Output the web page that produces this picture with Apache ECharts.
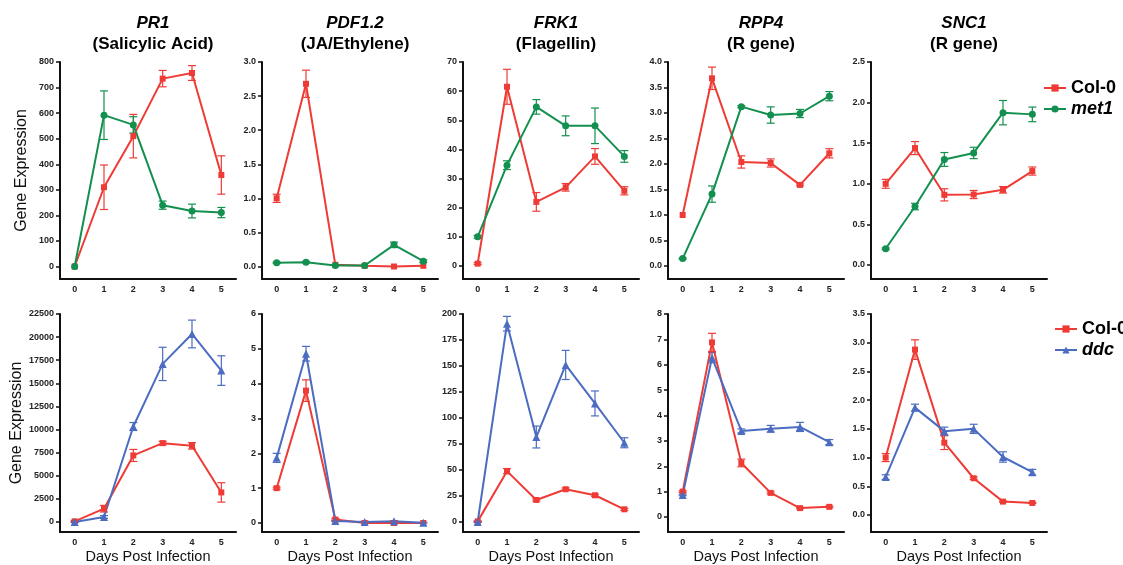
<!DOCTYPE html>
<html>
<head>
<meta charset="utf-8">
<script src="https://cdn.jsdelivr.net/npm/echarts@6/dist/echarts.min.js"></script>
<style>
  html, body { margin: 0; padding: 0; background: #fff; }
  #chart { width: 1123px; height: 565px; }
</style>
</head>
<body>
<div id="chart"></div>
<script>
var days = ['0', '1', '2', '3', '4', '5'];

// top row: Col-0 vs met1 (mean, sem)
var pr1Col = [0, 310, 510, 735, 757, 358];
var pr1ColErr = [0, 87, 85, 32, 29, 75];
var pr1Met1 = [0, 592, 554, 240, 217, 211];
var pr1Met1Err = [0, 95, 32, 16, 27, 20];

var pdfCol = [1.0, 2.68, 0.025, 0.01, 0.0, 0.01];
var pdfColErr = [0.06, 0.2, 0, 0, 0, 0];
var pdfMet1 = [0.054, 0.064, 0.015, 0.015, 0.318, 0.078];
var pdfMet1Err = [0.01, 0.01, 0, 0, 0.04, 0.02];

var frkCol = [0.8, 61.5, 22, 27, 37.6, 25.8];
var frkColErr = [0.3, 6, 3.2, 1.3, 2.7, 1.4];
var frkMet1 = [10, 34.6, 54.6, 48.1, 48.1, 37.6];
var frkMet1Err = [0.5, 1.5, 2.5, 3.4, 6.1, 2];

var rppCol = [1.0, 3.68, 2.04, 2.02, 1.59, 2.21];
var rppColErr = [0, 0.22, 0.12, 0.08, 0.02, 0.09];
var rppMet1 = [0.145, 1.41, 3.125, 2.96, 2.99, 3.33];
var rppMet1Err = [0.01, 0.16, 0.02, 0.16, 0.08, 0.09];

var sncCol = [1.0, 1.44, 0.864, 0.868, 0.926, 1.157];
var sncColErr = [0.055, 0.08, 0.075, 0.05, 0.04, 0.05];
var sncMet1 = [0.2, 0.72, 1.30, 1.38, 1.876, 1.855];
var sncMet1Err = [0.01, 0.04, 0.085, 0.07, 0.15, 0.09];

// bottom row: Col-0 vs ddc
var pr1bCol = [70, 1440, 7200, 8530, 8240, 3200];
var pr1bColErr = [100, 360, 650, 200, 350, 1050];
var pr1Ddc = [0, 540, 10330, 17100, 20340, 16380];
var pr1DdcErr = [50, 150, 430, 1800, 1500, 1600];

var pdfbCol = [1.0, 3.80, 0.1, 0.0, 0.0, 0.0];
var pdfbColErr = [0.03, 0.31, 0.03, 0, 0, 0];
var pdfDdc = [1.87, 4.86, 0.06, 0.03, 0.05, 0.01];
var pdfDdcErr = [0.13, 0.21, 0.02, 0.02, 0.02, 0.01];

var frkbCol = [0.6, 48.9, 21.2, 31.5, 25.7, 12.2];
var frkbColErr = [0.5, 2.5, 1, 1.2, 1, 1];
var frkDdc = [0, 190.7, 81.7, 151, 114, 76.2];
var frkDdcErr = [0.5, 7, 10.5, 14, 12, 4.8];

var rppbCol = [1.0, 6.88, 2.13, 0.95, 0.35, 0.4];
var rppbColErr = [0.03, 0.36, 0.15, 0.04, 0.03, 0.03];
var rppDdc = [0.87, 6.28, 3.39, 3.48, 3.55, 2.95];
var rppDdcErr = [0.03, 0.2, 0.08, 0.13, 0.18, 0.1];

var sncbCol = [1.0, 2.88, 1.26, 0.64, 0.233, 0.21];
var sncbColErr = [0.07, 0.17, 0.12, 0.02, 0.01, 0.01];
var sncDdc = [0.66, 1.87, 1.46, 1.50, 1.01, 0.745];
var sncDdcErr = [0.04, 0.06, 0.07, 0.08, 0.09, 0.05];

// y tick values
var pr1Ticks = [0, 100, 200, 300, 400, 500, 600, 700, 800];
var pdfTicks = [0, 0.5, 1.0, 1.5, 2.0, 2.5, 3.0];
var frkTicks = [0, 10, 20, 30, 40, 50, 60, 70];
var rppTicks = [0, 0.5, 1.0, 1.5, 2.0, 2.5, 3.0, 3.5, 4.0];
var sncTicks = [0, 0.5, 1.0, 1.5, 2.0, 2.5];
var pr1bTicks = [0, 2500, 5000, 7500, 10000, 12500, 15000, 17500, 20000, 22500];
var pdfbTicks = [0, 1, 2, 3, 4, 5, 6];
var frkbTicks = [0, 25, 50, 75, 100, 125, 150, 175, 200];
var rppbTicks = [0, 1, 2, 3, 4, 5, 6, 7, 8];
var sncbTicks = [0, 0.5, 1.0, 1.5, 2.0, 2.5, 3.0, 3.5];

var genes = ['PR1', 'PDF1.2', 'FRK1', 'RPP4', 'SNC1'];
var pathways = ['(Salicylic Acid)', '(JA/Ethylene)', '(Flagellin)', '(R gene)', '(R gene)'];

var RED = '#EE3B36', GREEN = '#13904F', BLUE = '#4B6CC0';
var FONT = 'Liberation Sans, Arial, sans-serif';

// layout
var panelLefts = [60, 262, 463, 668, 871];
var panelWidth = 176;
var rowTop = [62, 314];
var rowAxis = [279, 532];
var zeroPix = [[266.5, 266.5, 266, 266, 265], [522, 523, 522, 517, 515]];

var panels = [
  {row: 0, col: 0, ticks: pr1Ticks, dec: 0, a: pr1Col, ae: pr1ColErr, b: pr1Met1, be: pr1Met1Err, mut: 'met1'},
  {row: 0, col: 1, ticks: pdfTicks, dec: 1, a: pdfCol, ae: pdfColErr, b: pdfMet1, be: pdfMet1Err, mut: 'met1'},
  {row: 0, col: 2, ticks: frkTicks, dec: 0, a: frkCol, ae: frkColErr, b: frkMet1, be: frkMet1Err, mut: 'met1'},
  {row: 0, col: 3, ticks: rppTicks, dec: 1, a: rppCol, ae: rppColErr, b: rppMet1, be: rppMet1Err, mut: 'met1'},
  {row: 0, col: 4, ticks: sncTicks, dec: 1, a: sncCol, ae: sncColErr, b: sncMet1, be: sncMet1Err, mut: 'met1'},
  {row: 1, col: 0, ticks: pr1bTicks, dec: 0, a: pr1bCol, ae: pr1bColErr, b: pr1Ddc, be: pr1DdcErr, mut: 'ddc'},
  {row: 1, col: 1, ticks: pdfbTicks, dec: 0, a: pdfbCol, ae: pdfbColErr, b: pdfDdc, be: pdfDdcErr, mut: 'ddc'},
  {row: 1, col: 2, ticks: frkbTicks, dec: 0, a: frkbCol, ae: frkbColErr, b: frkDdc, be: frkDdcErr, mut: 'ddc'},
  {row: 1, col: 3, ticks: rppbTicks, dec: 0, a: rppbCol, ae: rppbColErr, b: rppDdc, be: rppDdcErr, mut: 'ddc'},
  {row: 1, col: 4, ticks: sncbTicks, dec: 1, a: sncbCol, ae: sncbColErr, b: sncDdc, be: sncDdcErr, mut: 'ddc'}
];

function errorBarItem(params, api) {
  var x = api.value(0), mean = api.value(1), err = api.value(2);
  if (!err) return null;
  var hi = api.coord([x, mean + err]);
  var lo = api.coord([x, mean - err]);
  var cap = 4;
  var style = {stroke: api.visual('color'), lineWidth: 1.2};
  return {
    type: 'group',
    children: [
      {type: 'line', shape: {x1: hi[0], y1: hi[1], x2: lo[0], y2: lo[1]}, style: style},
      {type: 'line', shape: {x1: hi[0] - cap, y1: hi[1], x2: hi[0] + cap, y2: hi[1]}, style: style},
      {type: 'line', shape: {x1: lo[0] - cap, y1: lo[1], x2: lo[0] + cap, y2: lo[1]}, style: style}
    ]
  };
}

function errData(means, errs) {
  return means.map(function (m, i) { return [i, m, errs[i]]; });
}

var grids = [], xAxes = [], yAxes = [], series = [], titles = [];

panels.forEach(function (p, k) {
  var top = rowTop[p.row], axisY = rowAxis[p.row], zero = zeroPix[p.row][p.col];
  var tmax = p.ticks[p.ticks.length - 1];
  var ymin = -tmax * (axisY - zero) / (zero - top);
  grids.push({left: panelLefts[p.col], top: top, width: panelWidth, height: axisY - top, outerBoundsMode: 'none'});
  xAxes.push({
    type: 'category', gridIndex: k, data: days,
    axisLine: {onZero: false, lineStyle: {color: '#111', width: 2}},
    axisTick: {alignWithLabel: true, length: 4, lineStyle: {color: '#111', width: 1.5}},
    axisLabel: {color: '#222', fontSize: 9, fontWeight: 'bold', margin: 6, fontFamily: FONT},
    name: p.row === 1 ? 'Days Post Infection' : '',
    nameLocation: 'middle', nameGap: 17,
    nameTextStyle: {fontSize: 14.5, color: '#111', fontFamily: FONT}
  });
  yAxes.push({
    type: 'value', gridIndex: k, min: ymin, max: tmax,
    splitLine: {show: false},
    axisLine: {show: true, lineStyle: {color: '#111', width: 2}},
    axisTick: {show: true, length: 4, lineStyle: {color: '#111', width: 1.5}, customValues: p.ticks},
    axisLabel: {
      color: '#222', fontSize: 9, fontWeight: 'bold', margin: 6, fontFamily: FONT,
      customValues: p.ticks,
      formatter: function (v) { return v.toFixed(p.dec); }
    },
    name: p.col === 0 ? 'Gene Expression' : '',
    nameLocation: 'middle', nameRotate: 90, nameGap: 30,
    nameTextStyle: {fontSize: 16, color: '#111', fontFamily: FONT}
  });
  var mutColor = p.mut === 'met1' ? GREEN : BLUE;
  var mutSymbol = p.mut === 'met1' ? 'circle' : 'triangle';
  series.push({
    type: 'custom', name: 'Col-0 sem', xAxisIndex: k, yAxisIndex: k,
    renderItem: errorBarItem, data: errData(p.a, p.ae), encode: {x: 0, y: 1},
    itemStyle: {color: RED}, silent: true, z: 2
  });
  series.push({
    type: 'custom', name: p.mut + ' sem', xAxisIndex: k, yAxisIndex: k,
    renderItem: errorBarItem, data: errData(p.b, p.be), encode: {x: 0, y: 1},
    itemStyle: {color: mutColor}, silent: true, z: 2
  });
  series.push({
    type: 'line', name: 'Col-0', xAxisIndex: k, yAxisIndex: k, data: p.a,
    symbol: 'rect', symbolSize: 6, color: RED,
    lineStyle: {width: 2, color: RED}, itemStyle: {color: RED}, z: 3
  });
  series.push({
    type: 'line', name: p.mut, xAxisIndex: k, yAxisIndex: k, data: p.b,
    symbol: mutSymbol, symbolSize: p.mut === 'met1' ? 7 : 8, color: mutColor,
    lineStyle: {width: 2, color: mutColor}, itemStyle: {color: mutColor}, z: 3
  });
  if (p.row === 0) {
    titles.push({
      text: genes[p.col], subtext: pathways[p.col],
      left: panelLefts[p.col] + panelWidth / 2, top: 10, textAlign: 'center', itemGap: 4,
      textStyle: {fontSize: 17, fontStyle: 'italic', fontWeight: 'bold', color: '#000', fontFamily: FONT},
      subtextStyle: {fontSize: 17, fontWeight: 'bold', color: '#000', fontFamily: FONT}
    });
  }
});

function legendFmt(name) {
  return name === 'Col-0' ? name : '{i|' + name + '}';
}
var legendText = {
  fontSize: 18, fontWeight: 'bold', color: '#000', fontFamily: FONT,
  rich: {i: {fontSize: 18, fontWeight: 'bold', fontStyle: 'italic', color: '#000', fontFamily: FONT}}
};

var option = {
  animation: false,
  textStyle: {fontFamily: FONT},
  title: titles,
  legend: [
    {data: ['Col-0', 'met1'], orient: 'vertical', left: 1043, top: 79, padding: 0, itemWidth: 22, itemHeight: 9,
     itemGap: 3, textStyle: legendText, formatter: legendFmt, selectedMode: false},
    {data: ['Col-0', 'ddc'], orient: 'vertical', left: 1054, top: 320, padding: 0, itemWidth: 22, itemHeight: 9,
     itemGap: 3, textStyle: legendText, formatter: legendFmt, selectedMode: false}
  ],
  grid: grids,
  xAxis: xAxes,
  yAxis: yAxes,
  series: series
};

echarts.init(document.getElementById('chart')).setOption(option);
</script>
</body>
</html>
